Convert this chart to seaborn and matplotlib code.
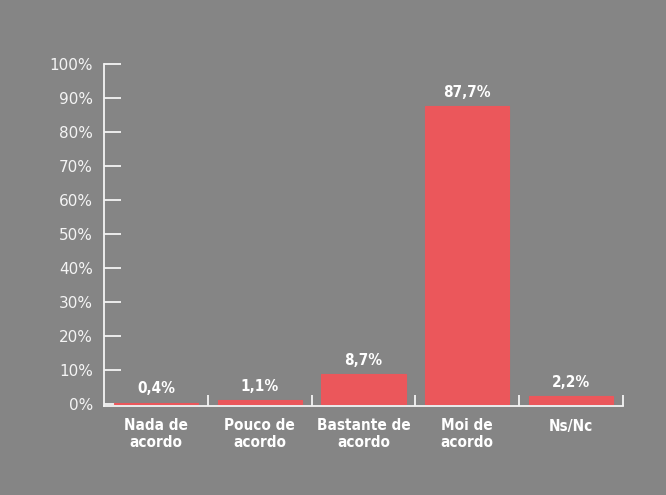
import pandas as pd
import seaborn as sns
import matplotlib.pyplot as plt

# Chart data
categories = ["Nada de\nacordo", "Pouco de\nacordo", "Bastante de\nacordo", "Moi de\nacordo", "Ns/Nc"]
values = [0.4, 1.1, 8.7, 87.7, 2.2]
value_labels = ["0,4%", "1,1%", "8,7%", "87,7%", "2,2%"]
y_ticks = [0, 10, 20, 30, 40, 50, 60, 70, 80, 90, 100]

bg = "#858585"
bar_color = "#EB575B"

df = pd.DataFrame({"cat": categories, "val": values})

fig = plt.figure(figsize=(6.66, 4.95), dpi=100, facecolor=bg)
ax = fig.add_axes([104 / 666, 89 / 495, 519 / 666, 342 / 495])
ax.set_facecolor(bg)

sns.barplot(data=df, x="cat", y="val", color=bar_color, width=0.81,
            saturation=1, ax=ax, linewidth=0.8, edgecolor=bar_color, zorder=3)

ax.set_xlim(-0.5, 4.5)
ax.set_ylim(-0.6, 100)
ax.set_yticks(y_ticks)
ax.set_yticklabels([f"{t}%" for t in y_ticks], color="#f4f4f4", fontsize=11)
ax.tick_params(axis="y", direction="in", length=12, width=1.3, color="#f4f4f4", pad=8)

# category labels without tick marks, boundary marks as minor ticks
ax.set_xticks(range(len(categories)))
ax.set_xticklabels(categories, color="white", fontsize=11, fontweight="bold",
                   fontstretch="condensed", linespacing=1.1)
ax.tick_params(axis="x", length=0, pad=9)
ax.set_xticks([0.5, 1.5, 2.5, 3.5, 4.5], minor=True)
ax.tick_params(axis="x", which="minor", direction="in", length=8, width=1.3, color="#f4f4f4")

for i, (v, lab) in enumerate(zip(values, value_labels)):
    ax.text(i, v + 1.8, lab, ha="center", va="bottom", color="white",
            fontsize=11, fontweight="bold", fontstretch="condensed")

for side in ["top", "right"]:
    ax.spines[side].set_visible(False)
for side in ["left", "bottom"]:
    ax.spines[side].set_color("#f4f4f4")
    ax.spines[side].set_linewidth(1.3)
    ax.spines[side].set_zorder(4)

ax.set_xlabel("")
ax.set_ylabel("")

fig.savefig("out.png", dpi=100, facecolor=bg)
